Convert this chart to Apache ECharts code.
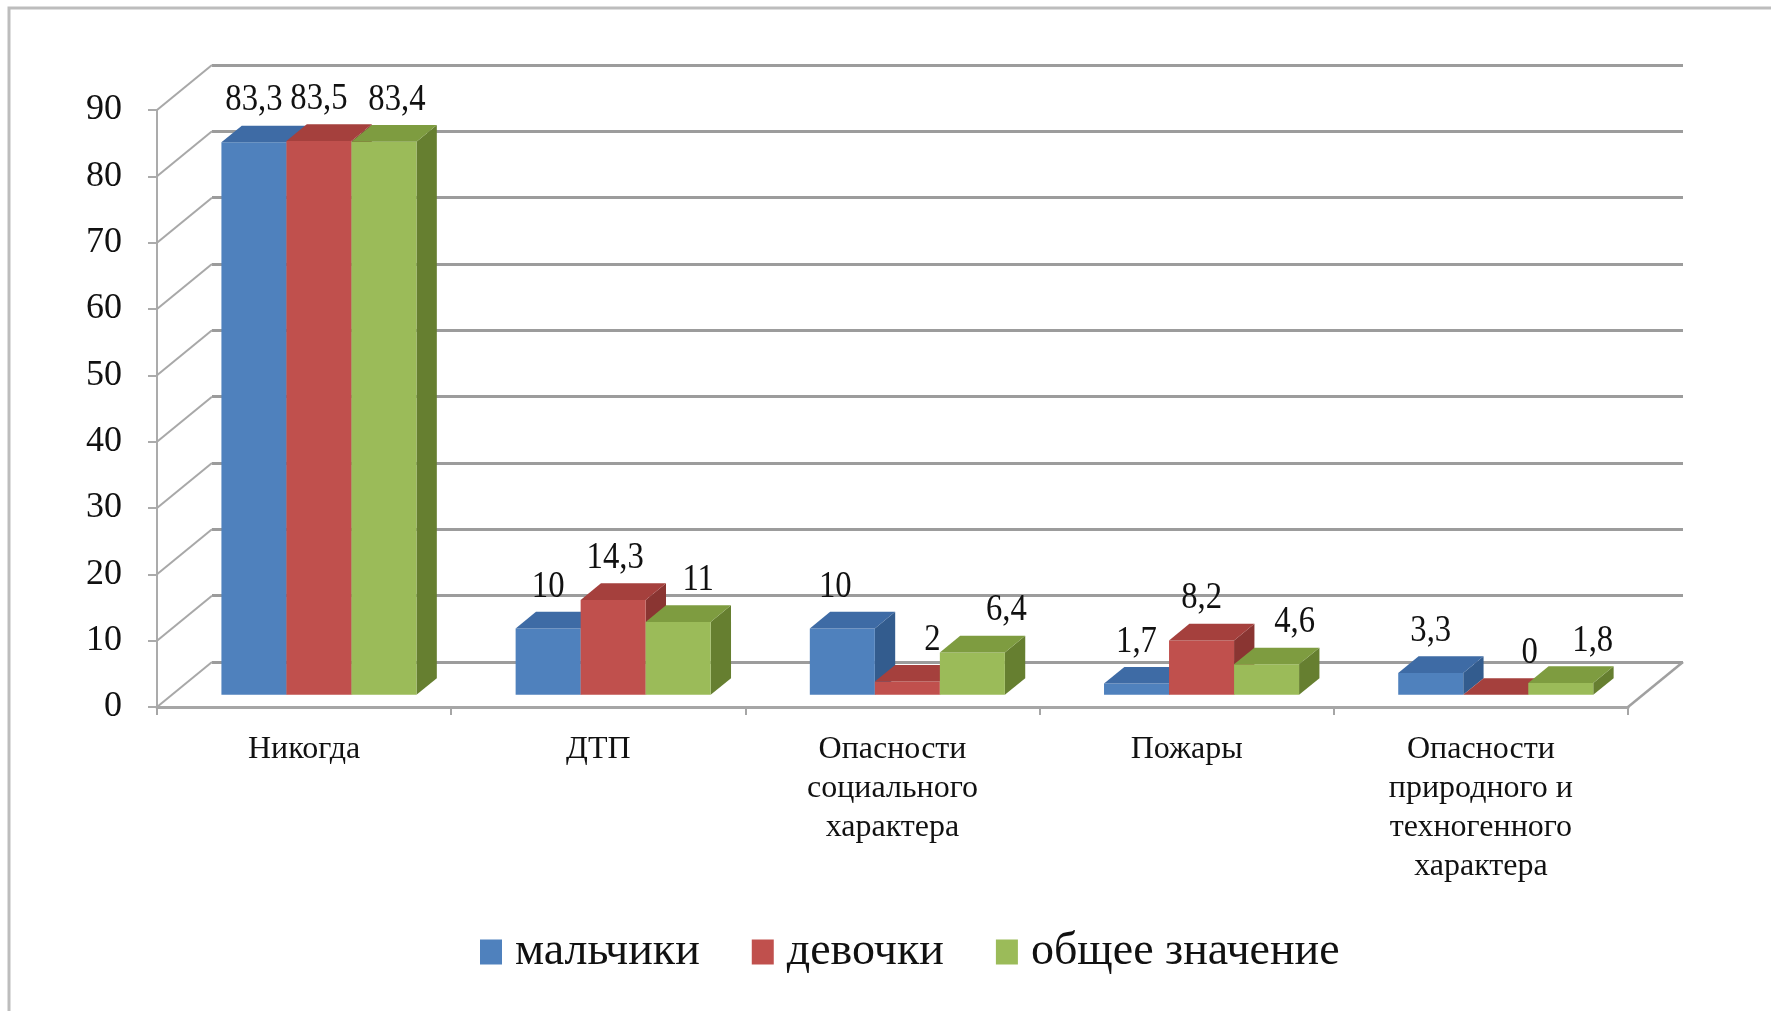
<!DOCTYPE html>
<html><head><meta charset="utf-8">
<script src="https://cdn.jsdelivr.net/npm/echarts/dist/echarts.min.js"></script>
<style>html,body{margin:0;padding:0;background:#fff;}#c{width:1771px;height:1011px;}</style>
</head><body><div id="c"></div>
<script>
// ---- data ----
const categories = ['Никогда', 'ДТП', 'Опасности\nсоциального\nхарактера', 'Пожары', 'Опасности\nприродного и\nтехногенного\nхарактера'];
const seriesNames = ['мальчики', 'девочки', 'общее значение'];
const boys  = [83.3, 10, 10, 1.7, 3.3];
const girls = [83.5, 14.3, 2, 8.2, 0];
const total = [83.4, 11, 6.4, 4.6, 1.8];
const yTicks = [0, 10, 20, 30, 40, 50, 60, 70, 80, 90];

// ---- layout / style ----
const Y_MIN = 0, Y_MAX = 90, Y_STEP = 10;
const FONT = 'Liberation Serif';
const DX = 55, DY = -45;          // depth of the 3D floor
const FRONT = 0.27, DEPTH = 0.37; // bar position / thickness in depth
const GAP = 0.337;                // category gap fraction
const G0 = {left: 157, right: 143, top: 110, bottom: 304};
const COLORS = [
  {front: '#4F81BD', top: '#3E6BA5', side: '#335C8E'},
  {front: '#C0504D', top: '#A5403D', side: '#8A3532'},
  {front: '#9BBB59', top: '#7E9C40', side: '#667F30'}
];
const labelNudge = [[0, 0, -7, 0, 0], [0, 2, 25, 0, 34], [13, 20, 34, 28, 32]];
const fmt = v => String(v).replace('.', ',');

function barRenderer(si) {
  return function (params, api) {
    const ci = api.value(0), v = api.value(1);
    const band = api.size([1, 0])[0];
    const barW = band * (1 - GAP) / 3;
    const c = api.coord([ci, v]);
    const b = api.coord([ci, 0]);
    const ox = FRONT * DX, oy = FRONT * DY;
    const ddx = DEPTH * DX, ddy = DEPTH * DY;
    const xl = c[0] - 1.5 * barW + si * barW + ox;
    const xr = xl + barW;
    const yt = c[1] + oy, yb = b[1] + oy;
    const col = COLORS[si];
    const ch = [];
    if (yb - yt > 0.5) {
      ch.push({type: 'polygon', shape: {points: [[xr, yt], [xr + ddx, yt + ddy], [xr + ddx, yb + ddy], [xr, yb]]}, style: {fill: col.side}});
      ch.push({type: 'rect', shape: {x: xl, y: yt, width: barW, height: yb - yt}, style: {fill: col.front}});
    }
    ch.push({type: 'polygon', shape: {points: [[xl, yt], [xr, yt], [xr + ddx, yt + ddy], [xl + ddx, yt + ddy]]}, style: {fill: col.top}});
    ch.push({type: 'text', x: (xl + xr) / 2 + labelNudge[si][ci], y: yt - 42, scaleX: 0.86, z2: 50,
      style: {text: fmt(v), fontSize: 38, fontFamily: FONT, fill: '#111', align: 'center', verticalAlign: 'middle'}});
    return {type: 'group', children: ch};
  };
}

function wallRenderer(params, api) {
  const cs = params.coordSys;
  const v = api.value(1);
  const p = api.coord([0, v]);
  const y = p[1];
  const ch = [{type: 'line', shape: {x1: cs.x, y1: y, x2: cs.x + DX, y2: y + DY}, style: {stroke: '#a8a8a8', lineWidth: 2}}];
  if (v === Y_MIN) {
    const xr = cs.x + cs.width;
    ch.push({type: 'line', shape: {x1: xr, y1: y, x2: xr + DX, y2: y + DY}, style: {stroke: '#a0a0a0', lineWidth: 2.5}});
  }
  return {type: 'group', children: ch};
}

const chart = echarts.init(document.getElementById('c'));
const seriesData = [boys, girls, total];
chart.setOption({
  animation: false,
  backgroundColor: '#fff',
  graphic: [{type: 'rect', silent: true, z: -10, shape: {x: 9, y: 8, width: 1800, height: 1100}, style: {fill: 'none', stroke: '#bdbdbd', lineWidth: 3}}],
  legend: {
    data: seriesNames, left: 475, top: 924, icon: 'rect', itemWidth: 22, itemHeight: 25, itemGap: 52,
    textStyle: {fontSize: 46, fontFamily: FONT, color: '#111', padding: [24, 0, 0, 8]}
  },
  grid: [
    {left: G0.left, right: G0.right, top: G0.top, bottom: G0.bottom},
    {left: G0.left + DX, right: G0.right - DX, top: G0.top + DY, bottom: G0.bottom - DY}
  ],
  xAxis: [
    {type: 'category', gridIndex: 0, data: categories, boundaryGap: true,
      axisLine: {lineStyle: {color: '#a6a6a6', width: 3}},
      axisTick: {show: true, interval: 0, length: 8, lineStyle: {color: '#a6a6a6', width: 2}},
      axisLabel: {interval: 0, margin: 23, fontSize: 32, lineHeight: 39, fontFamily: FONT, color: '#111'}},
    {type: 'value', gridIndex: 1, min: 0, max: 1, show: false}
  ],
  yAxis: [
    {type: 'value', gridIndex: 0, min: Y_MIN, max: Y_MAX, interval: Y_STEP,
      axisLine: {show: true, lineStyle: {color: '#ababab', width: 2}},
      axisTick: {show: true, length: 9, lineStyle: {color: '#ababab', width: 2}},
      splitLine: {show: false},
      axisLabel: {margin: 35, fontSize: 36, fontFamily: FONT, color: '#111', padding: [9, 0, 0, 0]}},
    {type: 'value', gridIndex: 1, min: Y_MIN, max: Y_MAX, interval: Y_STEP,
      axisLine: {show: false}, axisTick: {show: false}, axisLabel: {show: false},
      splitLine: {show: true, lineStyle: {color: '#9c9c9c', width: 3}}}
  ],
  series: [
    {type: 'custom', name: 'wall', xAxisIndex: 0, yAxisIndex: 0, silent: true, z: 1,
      renderItem: wallRenderer, data: yTicks.map(v => [0, v])}
  ].concat(seriesNames.map((n, si) => ({
    type: 'custom', name: n, xAxisIndex: 0, yAxisIndex: 0, z: 3,
    itemStyle: {color: COLORS[si].front},
    renderItem: barRenderer(si),
    encode: {x: 0, y: 1},
    data: seriesData[si].map((v, i) => [i, v])
  })))
});
</script></body></html>
